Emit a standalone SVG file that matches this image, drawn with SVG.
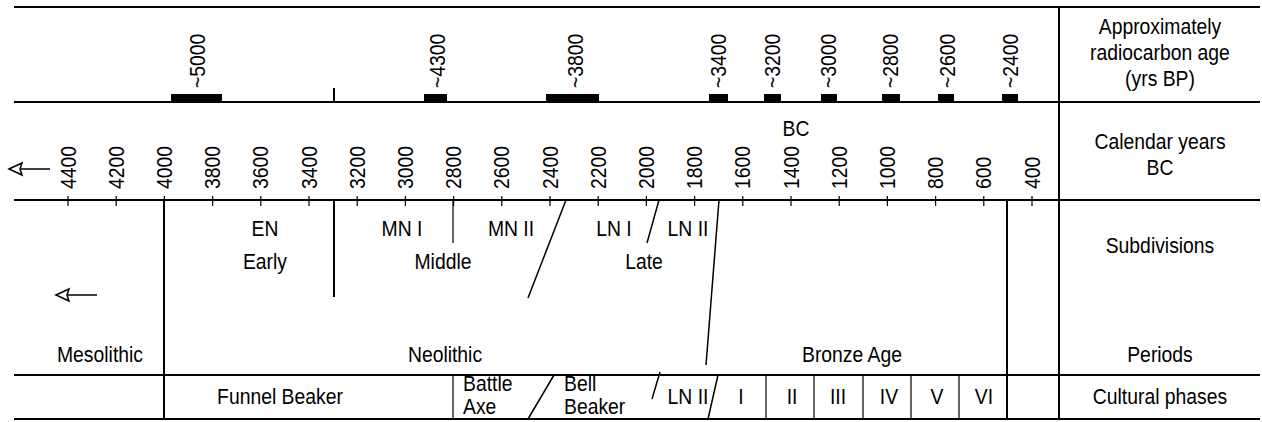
<svg xmlns="http://www.w3.org/2000/svg" width="1262" height="422" viewBox="0 0 1262 422">
<style>
text{font-family:"Liberation Sans",Arial,sans-serif;font-size:21.5px;fill:#000}
.c{text-anchor:middle}
.r{font-size:21.5px}
.thick{stroke:#000;stroke-width:2;fill:none}
.mid{stroke:#000;stroke-width:1.5;fill:none}
.thin{stroke:#000;stroke-width:1.2;fill:none}
.bar{fill:#000}
</style>
<defs>
<g id="arrow"><path d="M0,0 H41" class="mid"/><path d="M0,0 L13,-6 L11,0 L13,6 Z" fill="#fff" stroke="#000" stroke-width="1.5" stroke-linejoin="miter"/></g>
</defs>
<g id="connectors">
<path class="thick" d="M14,7 H1260 M14,102 H1260 M14,200 H1260 M14,375 H1260 M14,419 H1260"/>
<path class="thick" d="M1059,7 V419 M164,200 V419 M334,200 V297 M334,88 V102 M1007,200 V419"/>
<path class="thin" d="M453,200 V243 M453,375 V419 M766,375 V419 M814,375 V419 M863,375 V419 M911,375 V419 M959,375 V419"/>
<path class="mid" d="M566,200 L528,298 M659,200 L647,243 M719,200 L706,365 M554,375 L528,419 M660,372 L652,399 M718,375 L708,419"/>
<path class="thin" d="M68,196V206 M116.2,196V206 M164.4,196V206 M212.6,196V206 M260.8,196V206 M309,196V206 M357.2,196V206 M405.4,196V206 M453.6,196V206 M501.8,196V206 M550,196V206 M598.2,196V206 M646.4,196V206 M694.6,196V206 M742.8,196V206 M791,196V206 M839.2,196V206 M887.4,196V206 M935.6,196V206 M983.8,196V206 M1032,196V206"/>
<use href="#arrow" x="9" y="169"/>
<use href="#arrow" x="56" y="295"/>
</g>
<g id="radiocarbon">
<rect class="bar" x="171" y="94" width="51" height="7"/>
<rect class="bar" x="424" y="94" width="23" height="7"/>
<rect class="bar" x="546" y="94" width="53" height="7"/>
<rect class="bar" x="709" y="94" width="19" height="7"/>
<rect class="bar" x="764" y="94" width="17" height="7"/>
<rect class="bar" x="821" y="94" width="16" height="7"/>
<rect class="bar" x="882" y="94" width="18" height="7"/>
<rect class="bar" x="938" y="94" width="16" height="7"/>
<rect class="bar" x="1002" y="94" width="16" height="7"/>
<text class="r" transform="translate(205,88) rotate(-90) scale(.9,1)">~5000</text>
<text class="r" transform="translate(445,88) rotate(-90) scale(.9,1)">~4300</text>
<text class="r" transform="translate(583,88) rotate(-90) scale(.9,1)">~3800</text>
<text class="r" transform="translate(726,88) rotate(-90) scale(.9,1)">~3400</text>
<text class="r" transform="translate(780,88) rotate(-90) scale(.9,1)">~3200</text>
<text class="r" transform="translate(836,88) rotate(-90) scale(.9,1)">~3000</text>
<text class="r" transform="translate(898,88) rotate(-90) scale(.9,1)">~2800</text>
<text class="r" transform="translate(955,88) rotate(-90) scale(.9,1)">~2600</text>
<text class="r" transform="translate(1018,88) rotate(-90) scale(.9,1)">~2400</text>
</g>
<g id="calendar">
<text class="c" transform="translate(796,136) scale(.9,1)">BC</text>
<text class="r" transform="translate(75.5,189) rotate(-90) scale(.9,1)">4400</text>
<text class="r" transform="translate(123.7,189) rotate(-90) scale(.9,1)">4200</text>
<text class="r" transform="translate(171.9,189) rotate(-90) scale(.9,1)">4000</text>
<text class="r" transform="translate(220.1,189) rotate(-90) scale(.9,1)">3800</text>
<text class="r" transform="translate(268.3,189) rotate(-90) scale(.9,1)">3600</text>
<text class="r" transform="translate(316.5,189) rotate(-90) scale(.9,1)">3400</text>
<text class="r" transform="translate(364.7,189) rotate(-90) scale(.9,1)">3200</text>
<text class="r" transform="translate(412.9,189) rotate(-90) scale(.9,1)">3000</text>
<text class="r" transform="translate(461.1,189) rotate(-90) scale(.9,1)">2800</text>
<text class="r" transform="translate(509.3,189) rotate(-90) scale(.9,1)">2600</text>
<text class="r" transform="translate(557.5,189) rotate(-90) scale(.9,1)">2400</text>
<text class="r" transform="translate(605.7,189) rotate(-90) scale(.9,1)">2200</text>
<text class="r" transform="translate(653.9,189) rotate(-90) scale(.9,1)">2000</text>
<text class="r" transform="translate(702.1,189) rotate(-90) scale(.9,1)">1800</text>
<text class="r" transform="translate(750.3,189) rotate(-90) scale(.9,1)">1600</text>
<text class="r" transform="translate(798.5,189) rotate(-90) scale(.9,1)">1400</text>
<text class="r" transform="translate(846.7,189) rotate(-90) scale(.9,1)">1200</text>
<text class="r" transform="translate(894.9,189) rotate(-90) scale(.9,1)">1000</text>
<text class="r" transform="translate(943.1,189) rotate(-90) scale(.9,1)">800</text>
<text class="r" transform="translate(991.3,189) rotate(-90) scale(.9,1)">600</text>
<text class="r" transform="translate(1039.5,189) rotate(-90) scale(.9,1)">400</text>
</g>
<g id="subdivisions">
<text class="c" transform="translate(265,236) scale(.9,1)">EN</text>
<text class="c" transform="translate(265,269) scale(.9,1)">Early</text>
<text class="c" transform="translate(402,236) scale(.9,1)">MN I</text>
<text class="c" transform="translate(511,236) scale(.9,1)">MN II</text>
<text class="c" transform="translate(443,269) scale(.9,1)">Middle</text>
<text class="c" transform="translate(614,236) scale(.9,1)">LN I</text>
<text class="c" transform="translate(688,236) scale(.9,1)">LN II</text>
<text class="c" transform="translate(644,269) scale(.9,1)">Late</text>
</g>
<g id="periods">
<text class="c" transform="translate(100,362) scale(.9,1)">Mesolithic</text>
<text class="c" transform="translate(445,362) scale(.9,1)">Neolithic</text>
<text class="c" transform="translate(852,362) scale(.9,1)">Bronze Age</text>
</g>
<g id="cultural">
<text class="c" transform="translate(280,404) scale(.9,1)">Funnel Beaker</text>
<text transform="translate(463,391) scale(.9,1)">Battle</text>
<text transform="translate(463,414) scale(.9,1)">Axe</text>
<text transform="translate(564,391) scale(.9,1)">Bell</text>
<text transform="translate(564,414) scale(.9,1)">Beaker</text>
<text class="c" transform="translate(688,404) scale(.9,1)">LN II</text>
<text class="c" transform="translate(741,404) scale(.9,1)">I</text>
<text class="c" transform="translate(792,404) scale(.9,1)">II</text>
<text class="c" transform="translate(838,404) scale(.9,1)">III</text>
<text class="c" transform="translate(889,404) scale(.9,1)">IV</text>
<text class="c" transform="translate(937,404) scale(.9,1)">V</text>
<text class="c" transform="translate(984,404) scale(.9,1)">VI</text>
</g>
<g id="legend">
<text class="c" transform="translate(1160,34) scale(.9,1)">Approximately</text>
<text class="c" transform="translate(1160,60) scale(.9,1)">radiocarbon age</text>
<text class="c" transform="translate(1160,86) scale(.9,1)">(yrs BP)</text>
<text class="c" transform="translate(1160,149) scale(.9,1)">Calendar years</text>
<text class="c" transform="translate(1160,175) scale(.9,1)">BC</text>
<text class="c" transform="translate(1160,253) scale(.9,1)">Subdivisions</text>
<text class="c" transform="translate(1160,362) scale(.9,1)">Periods</text>
<text class="c" transform="translate(1160,404) scale(.9,1)">Cultural phases</text>
</g>
</svg>
